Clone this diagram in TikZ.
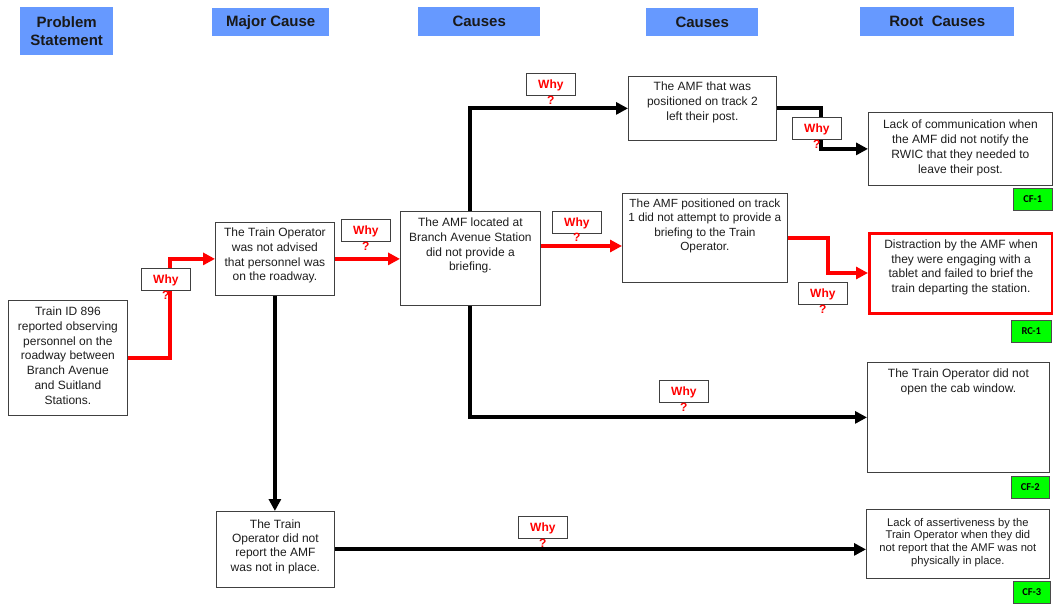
\documentclass[tikz,border=0pt]{standalone}
\usepackage{fontspec}
\setmainfont{Liberation Sans}
\newfontfamily\tagfont{Carlito}
\usetikzlibrary{arrows.meta}
\definecolor{hdrblue}{RGB}{102,153,255}
\definecolor{tagGreen}{RGB}{0,255,0}
\definecolor{ink}{RGB}{30,30,30}
% fixed-size text block: width, height, first-baseline offset, lines
\newcommand\boxtxt[4]{\parbox[c][#2][t]{#1}{\centering\rule{0pt}{#3}#4\par}}
\tikzset{
  hdr/.style={fill=hdrblue, inner sep=0pt, anchor=north west, align=center,
    text=black!90, font=\bfseries\fontsize{15}{18}\selectfont},
  box/.style={draw=ink!85, line width=0.8pt, fill=white, inner sep=0pt,
    anchor=north west, text=ink, font=\fontsize{12}{14.8}\selectfont},
  rootbox/.style={box, draw=red, line width=3pt},
  link/.style={line width=4pt, -{Triangle[length=12pt 0 0,width=12pt 0 0]}},
  redlink/.style={link, draw=red},
  blacklink/.style={link, draw=black},
  why/.style={draw=ink!85, line width=0.8pt, fill=white, minimum width=49pt,
    minimum height=22pt, inner sep=0pt, anchor=north west, text=red,
    font=\bfseries\fontsize{12}{14}\selectfont, text depth=0pt},
  qmark/.style={anchor=north, inner sep=0pt, text=red,
    font=\bfseries\fontsize{12}{14}\selectfont},
  tag/.style={draw=ink!80, line width=0.6pt, fill=tagGreen, anchor=north west,
    inner sep=0pt, minimum height=22pt, font=\tagfont\bfseries\fontsize{10.5}{12}\selectfont}
}
\begin{document}
\begin{tikzpicture}[x=1pt,y=-1pt]
\useasboundingbox (0,0) rectangle (1053,605);

% column headings
\node[hdr, minimum width=93pt, minimum height=48pt] (hProb) at (20,7) {Problem\\Statement};
\node[hdr, minimum width=117pt, minimum height=28pt] (hMajor) at (212,8) {Major Cause};
\node[hdr, minimum width=122pt, minimum height=29pt] (hCausesA) at (418,7) {Causes};
\node[hdr, minimum width=112pt, minimum height=28pt] (hCausesB) at (646,8) {Causes};
\node[hdr, minimum width=154pt, minimum height=29pt] (hRoot) at (860,7) {Root~~Causes};

% statement and cause boxes
\node[box] (prob) at (8,300) {\boxtxt{119pt}{115pt}{15pt}{Train ID 896\\reported observing\\personnel on the\\roadway between\\Branch Avenue\\and Suitland\\Stations.}};
\node[box] (major) at (215,222) {\boxtxt{119pt}{73pt}{14pt}{The Train Operator\\was not advised\\that personnel was\\on the roadway.}};
\node[box] (amf) at (400,211) {\boxtxt{140pt}{94pt}{15pt}{The AMF located at\\Branch Avenue Station\\did not provide a\\briefing.}};
\node[box] (track2) at (628,76) {\boxtxt{148pt}{64pt}{14pt}{The AMF that was\\positioned on track 2\\left their post.}};
\node[box, font=\fontsize{11.8}{14.6}\selectfont] (track1) at (622,193) {\boxtxt{165pt}{89pt}{13.7pt}{The AMF positioned on track\\1 did not attempt to provide a\\briefing to the Train\\Operator.}};
\node[box, font=\fontsize{12}{14.2}\selectfont] (report) at (216,511) {\boxtxt{118pt}{76pt}{17pt}{The Train\\Operator did not\\report the AMF\\was not in place.}};

% root cause boxes
\node[box] (comm) at (868,112) {\boxtxt{184pt}{73pt}{16.3pt}{Lack of communication when\\the AMF did not notify the\\RWIC that they needed to\\leave their post.}};
\node[rootbox] (dist) at (868,231.5) {\boxtxt{183pt}{80pt}{15.2pt}{Distraction by the AMF when\\they were engaging with a\\tablet and failed to brief the\\train departing the station.}};
\node[box] (cab) at (867,362) {\boxtxt{182pt}{110pt}{15pt}{The Train Operator did not\\open the cab window.}};
\node[box, font=\fontsize{11.2}{12.7}\selectfont] (assert) at (866,509) {\boxtxt{183pt}{69pt}{16.7pt}{Lack of assertiveness by the\\Train Operator when they did\\not report that the AMF was not\\physically in place.}};

% reference tags
\node[tag, minimum width=39pt] (cf1) at (1013,188) {CF-1};
\node[tag, minimum width=40pt] (rc1) at (1011,320) {RC-1};
\node[tag, minimum width=38pt] (cf2) at (1011,476) {CF-2};
\node[tag, minimum width=37pt] (cf3) at (1013,581) {CF-3};

% connectors
\coordinate (k1) at (170,0);
\coordinate (k3) at (0,246);
\coordinate (k5) at (821,0);
\coordinate (k6) at (828,0);
\draw[redlink] (prob.east) -- (prob.east -| k1) -- (major.west -| k1) -- (major.west);
\draw[redlink] (major.east) -- (major.east -| amf.west);
\draw[redlink] (amf.east |- k3) -- (track1.west |- k3);
\draw[blacklink] (amf.north) |- (track2.west);
\draw[blacklink] (track2.east) -- (track2.east -| k5) -- (comm.west -| k5) -- (comm.west);
\draw[redlink] (track1.east) -- (track1.east -| k6) -- (dist.west -| k6) -- (dist.west);
\draw[blacklink] (amf.south) |- (cab.west);
\draw[blacklink] (major.south) -- (major.south |- report.north);
\draw[blacklink] (report.east) -- (report.east -| assert.west);

% "Why?" prompts
\node[why] (w1) at (141,268) {Why};
\node[why] (w2) at (341,219) {Why};
\node[why] (w3) at (552,210.5) {Why};
\node[why] (w4) at (526,73) {Why};
\node[why] (w5) at (792,117) {Why};
\node[why] (w6) at (798,282) {Why};
\node[why] (w7) at (659,380) {Why};
\node[why] (w8) at (518,516) {Why};
\foreach \w in {1,...,8}
  \node[qmark] (q\w) at (w\w.south) {?};
\end{tikzpicture}
\end{document}
